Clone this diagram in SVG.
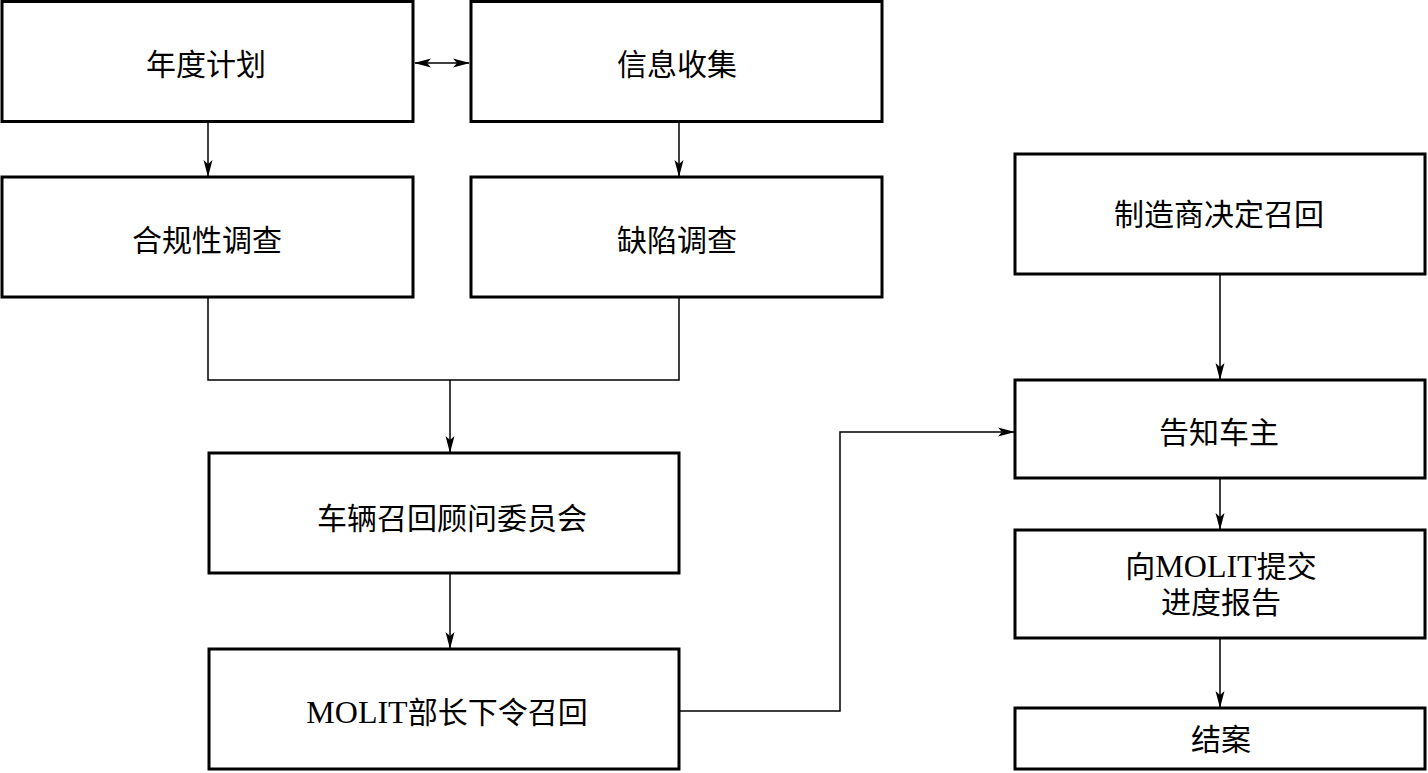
<svg xmlns="http://www.w3.org/2000/svg" width="1428" height="773" viewBox="0 0 1428 773">
<style>
.box{fill:#fff;stroke:#000;stroke-width:3}
.t{font-family:"Liberation Serif","Noto Sans CJK SC",serif;font-size:30px;fill:#000;text-anchor:middle;dominant-baseline:central}
.l{font-size:32px}
.c{fill:none;stroke:#000;stroke-width:1.5}
</style>
<defs>
<marker id="a" markerUnits="userSpaceOnUse" markerWidth="20" markerHeight="12" refX="16" refY="6" orient="auto-start-reverse" viewBox="0 0 20 12">
<path d="M0,1.5 L17,6 L0,10.5 L4,6 Z" fill="#000"/>
</marker>
</defs>
<rect width="1428" height="773" fill="#fff"/>
<g id="connectors">
<line class="c" x1="415" y1="63" x2="469" y2="63" marker-start="url(#a)" marker-end="url(#a)"/>
<line class="c" x1="208" y1="122" x2="208" y2="176" marker-end="url(#a)"/>
<line class="c" x1="679" y1="122" x2="679" y2="176" marker-end="url(#a)"/>
<polyline class="c" points="208,298 208,380 679,380 679,298"/>
<line class="c" x1="450" y1="380" x2="450" y2="452" marker-end="url(#a)"/>
<line class="c" x1="450" y1="574" x2="450" y2="648" marker-end="url(#a)"/>
<polyline class="c" points="680,711 840,711 840,432 1014,432" marker-end="url(#a)"/>
<line class="c" x1="1220" y1="275" x2="1220" y2="379" marker-end="url(#a)"/>
<line class="c" x1="1220" y1="479" x2="1220" y2="529" marker-end="url(#a)"/>
<line class="c" x1="1220" y1="639" x2="1220" y2="707" marker-end="url(#a)"/>
</g>
<g id="n1"><rect class="box" x="2" y="1.5" width="411" height="120"/><text class="t" x="206" y="64">年度计划</text></g>
<g id="n2"><rect class="box" x="471" y="1.5" width="411" height="120"/><text class="t" x="677" y="64">信息收集</text></g>
<g id="n3"><rect class="box" x="2" y="177" width="411" height="120"/><text class="t" x="207" y="240">合规性调查</text></g>
<g id="n4"><rect class="box" x="471" y="177" width="411" height="120"/><text class="t" x="677" y="240">缺陷调查</text></g>
<g id="n5"><rect class="box" x="209" y="453" width="470" height="120"/><text class="t" x="452" y="518">车辆召回顾问委员会</text></g>
<g id="n6"><rect class="box" x="209" y="649" width="470" height="120"/><text class="t" x="447" y="712"><tspan class="l">MOLIT</tspan>部长下令召回</text></g>
<g id="n7"><rect class="box" x="1015" y="154" width="410" height="120"/><text class="t" x="1219" y="214">制造商决定召回</text></g>
<g id="n8"><rect class="box" x="1015" y="380" width="410" height="98"/><text class="t" x="1219" y="432">告知车主</text></g>
<g id="n9"><rect class="box" x="1015" y="530" width="410" height="108"/><text class="t" x="1221" y="566"><tspan>向</tspan><tspan class="l">MOLIT</tspan><tspan>提交</tspan></text><text class="t" x="1221" y="602">进度报告</text></g>
<g id="n10"><rect class="box" x="1015" y="708" width="410" height="61"/><text class="t" x="1221" y="739">结案</text></g>
</svg>
